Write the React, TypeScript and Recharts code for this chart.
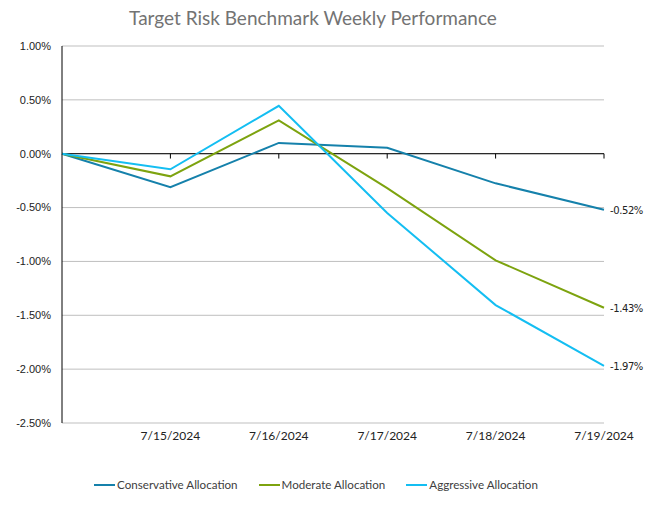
import React from 'react';
import {
  LineChart, Line, XAxis, YAxis, CartesianGrid, ReferenceLine, Legend, LabelList,
} from 'recharts';

const dates = ['', '7/15/2024', '7/16/2024', '7/17/2024', '7/18/2024', '7/19/2024'];
const conservative = [0, -0.31, 0.1, 0.055, -0.275, -0.52];
const moderate = [0, -0.21, 0.31, -0.32, -0.99, -1.43];
const aggressive = [0, -0.145, 0.445, -0.55, -1.405, -1.97];
const yTicks = [1, 0.5, 0, -0.5, -1, -1.5, -2, -2.5];
const seriesNames = ['Conservative Allocation', 'Moderate Allocation', 'Aggressive Allocation'];

const data = dates.map((d, i) => ({
  date: d,
  conservative: conservative[i],
  moderate: moderate[i],
  aggressive: aggressive[i],
}));

const COLORS = {
  conservative: '#1581AB',
  moderate: '#7DA30F',
  aggressive: '#14BEF2',
};

const TICK_LEN = 0.045; // ~5px in data units
const lastIdx = dates.length - 1;

const EndLabel = (props: any) => {
  const { x, y, index, value } = props;
  if (index !== lastIdx) return null;
  return (
    <text x={x + 6} y={y} dy={4} fontSize={10} fill="#222" fontFamily="'DejaVu Sans', sans-serif" letterSpacing={-0.4}>
      {`${value.toFixed(2)}%`}
    </text>
  );
};

const LegendContent = (props: any) => {
  const items = [...(props.payload || [])].sort(
    (a: any, b: any) => seriesNames.indexOf(a.value) - seriesNames.indexOf(b.value),
  );
  return (
    <div style={{ display: 'flex', justifyContent: 'center', gap: 21, fontFamily: 'Lato, sans-serif', fontSize: 11.6, color: '#404040' }}>
      {items.map((p: any) => (
        <div key={p.value} style={{ display: 'flex', alignItems: 'center' }}>
          <svg width={21} height={10} style={{ marginRight: 2 }}>
            <line x1={0} y1={5} x2={21} y2={5} stroke={p.color} strokeWidth={2} />
          </svg>
          <span>{p.value}</span>
        </div>
      ))}
    </div>
  );
};

export default function App() {
  return (
    <div style={{ position: 'absolute', left: 0, top: 0, width: 660, height: 508, background: '#fff' }}>
      <div style={{
        position: 'absolute', left: 0, top: 6, width: 626, textAlign: 'center',
        fontFamily: 'Lato, sans-serif', fontSize: 19, color: '#737373',
      }}>
        Target Risk Benchmark Weekly Performance
      </div>
      <LineChart width={660} height={508} data={data} margin={{ top: 46, right: 56, bottom: 35, left: 0 }}>
        <CartesianGrid horizontal vertical={false} stroke="#BFBFBF" />
        <XAxis
          dataKey="date"
          axisLine={false}
          tickLine={false}
          tickSize={0}
          tickMargin={8}
          height={30}
          interval={0}
          tick={{ fontSize: 12, fill: '#222', fontFamily: 'Lato, sans-serif' }}
        />
        <YAxis
          domain={[-2.5, 1]}
          ticks={yTicks}
          width={62}
          axisLine={{ stroke: '#000' }}
          tickLine={false}
          tickSize={0}
          tickMargin={11}
          tickFormatter={(v: number) => `${v.toFixed(2)}%`}
          tick={{ fontSize: 11, fill: '#222', fontFamily: "'Liberation Sans', Arial, sans-serif" }}
        />
        <ReferenceLine y={0} stroke="#000" strokeWidth={1} />
        {dates.slice(1).map((d) => (
          <ReferenceLine key={d} segment={[{ x: d, y: 0 }, { x: d, y: -TICK_LEN }]} stroke="#000" />
        ))}
        <Line type="linear" dataKey="conservative" name={seriesNames[0]} stroke={COLORS.conservative} strokeWidth={2} dot={false} isAnimationActive={false}>
          <LabelList dataKey="conservative" content={EndLabel} />
        </Line>
        <Line type="linear" dataKey="moderate" name={seriesNames[1]} stroke={COLORS.moderate} strokeWidth={2} dot={false} isAnimationActive={false}>
          <LabelList dataKey="moderate" content={EndLabel} />
        </Line>
        <Line type="linear" dataKey="aggressive" name={seriesNames[2]} stroke={COLORS.aggressive} strokeWidth={2} dot={false} isAnimationActive={false}>
          <LabelList dataKey="aggressive" content={EndLabel} />
        </Line>
        <Legend
          verticalAlign="bottom"
          height={20}
          wrapperStyle={{ bottom: 10, left: 0, width: 632 }}
          content={LegendContent}
        />
      </LineChart>
    </div>
  );
}
